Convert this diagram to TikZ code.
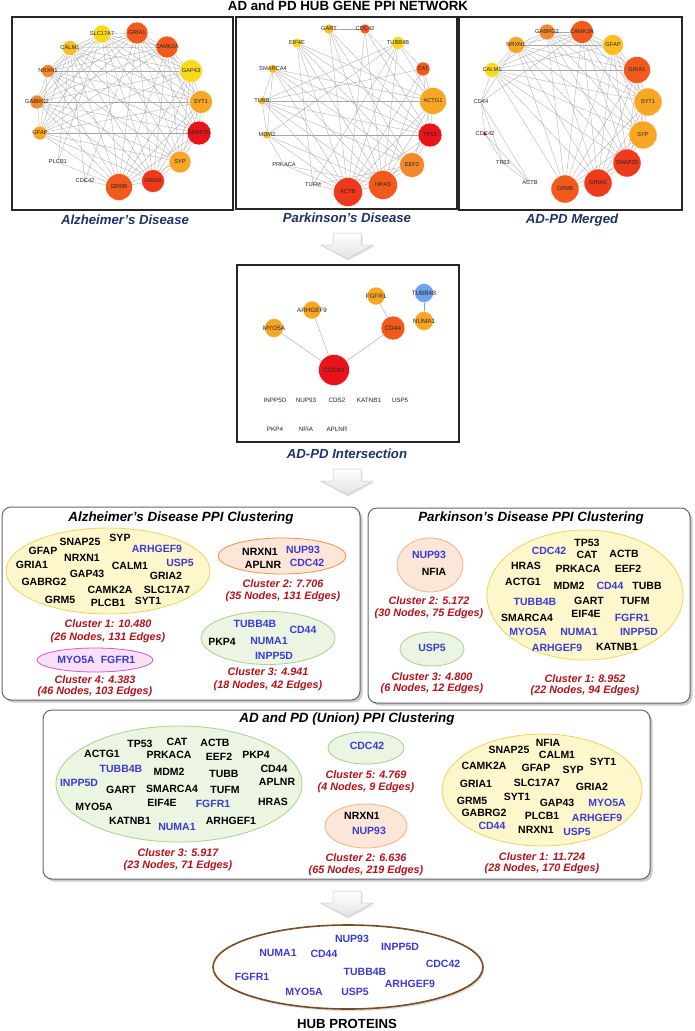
\documentclass[tikz,border=0pt]{standalone}
\usepackage{fontspec}
\setmainfont{Liberation Sans}
\usetikzlibrary{shapes.geometric,shadows}
\pgfdeclarelayer{bg}
\pgfsetlayers{bg,main}
\definecolor{cblue}{HTML}{3B3BD4}
\definecolor{cred}{HTML}{B5121B}
\definecolor{cnavy}{HTML}{1F3464}
\definecolor{nRed}{HTML}{E8141B}
\definecolor{nRedOr}{HTML}{EE3A1B}
\definecolor{nOrRed}{HTML}{F25A1D}
\definecolor{nOrange}{HTML}{F5882A}
\definecolor{nOrYel}{HTML}{F8A725}
\definecolor{nYelOr}{HTML}{F8BE22}
\definecolor{nYellow}{HTML}{F9D91C}
\definecolor{nBlue}{HTML}{6EA2F0}
\definecolor{yF}{HTML}{FFF7CC}
\definecolor{yD}{HTML}{EDD35C}
\definecolor{pF}{HTML}{FCE6D8}
\definecolor{pD}{HTML}{EE9050}
\definecolor{gF}{HTML}{EBF5E1}
\definecolor{gD}{HTML}{A9D18E}
\definecolor{mF}{HTML}{F9E0F7}
\definecolor{mD}{HTML}{D655D6}
\definecolor{hubD}{HTML}{7A4A20}
\definecolor{hubF}{HTML}{D9C6A4}
\definecolor{hubG}{HTML}{F1E8D8}
\pgfdeclareradialshading{hubshade}{\pgfpoint{0bp}{0bp}}{color(0bp)=(white); color(24bp)=(white); color(37bp)=(hubG); color(46bp)=(hubF); color(50bp)=(hubF)}
\newcommand\nnode[7][nl]{\node[nn,fill=#6,minimum size=#5] (#2) at (#3,#4) {};\node[#1] (#2l) at (#3,#4) {#7};}
\newcommand\barrowat[2]{\path[barrow] (#1-14,#2) -- (#1+14,#2) -- (#1+14,#2+12) -- (#1+26,#2+12) -- (#1,#2+26) -- (#1-26,#2+12) -- (#1-14,#2+12) -- cycle;}
\begin{document}
\begin{tikzpicture}[x=1pt,y=-1pt,
  nn/.style={circle,draw=white,line width=0.4pt,inner sep=0pt},
  nl/.style={font=\fontsize{5.7}{6}\selectfont,text=black!85,inner sep=0pt},
  il/.style={font=\fontsize{6.3}{7}\selectfont,text=black!85,inner sep=0pt},
  lnk/.style={draw=gray!70,line width=0.3pt},
  netbox/.style={draw=black!85,line width=1.1pt},
  plab/.style={font=\fontsize{13.2}{15}\selectfont\bfseries\itshape,text=cnavy,inner sep=0pt},
  wk/.style={font=\fontsize{10.5}{12}\selectfont\bfseries,inner sep=0pt},
  wb/.style={wk,text=cblue},
  st/.style={font=\fontsize{10.8}{12}\selectfont\bfseries\itshape,text=cred,inner sep=0pt},
  ctitle/.style={font=\fontsize{13.4}{15}\selectfont\bfseries\itshape,inner sep=0pt},
  cbox/.style={draw=black!60,line width=1pt,rounded corners=9pt,fill=white,drop shadow={shadow xshift=2.5pt,shadow yshift=-2.5pt,fill=black!40}},
  ell/.style={ellipse,line width=0.8pt,inner sep=0pt},
  barrow/.style={draw=gray!45,line width=0.5pt,top color=white,bottom color=gray!22,drop shadow={shadow xshift=1.5pt,shadow yshift=-1.5pt,fill=gray!40}}
]
\useasboundingbox (0,0) rectangle (694,1031);
\begin{pgfonlayer}{bg}
\fill[white] (0,0) rectangle (694,1031);
\end{pgfonlayer}

% ---------- title ----------
\node[font=\fontsize{13.3}{15}\selectfont\bfseries,inner sep=0pt] (title) at (348,6) {AD and PD HUB GENE PPI NETWORK};

% ---------- AD network ----------
\draw[netbox] (12,17) rectangle (233,210);
\nnode{a1}{102}{34}{18}{nYellow}{SLC17A7}
\nnode{a2}{137}{33}{22}{nOrRed}{GRIA1}
\nnode{a3}{167}{47}{22}{nOrRed}{CAMK2A}
\nnode{a4}{191}{71}{23}{nYellow}{GAP43}
\nnode{a5}{201}{102}{23}{nOrYel}{SYT1}
\nnode{a6}{199}{133}{24}{nRed}{SNAP25}
\nnode{a7}{180}{162}{22}{nOrYel}{SYP}
\nnode{a8}{153}{181}{23}{nRedOr}{GRIA2}
\nnode{a9}{119}{187}{27}{nOrRed}{GRM5}
\nnode{a10}{40}{133}{14}{nOrYel}{GFAP}
\nnode{a11}{37}{102}{14}{nOrange}{GABRG2}
\nnode{a12}{48}{71}{13}{nOrange}{NRXN1}
\nnode{a13}{70}{48}{15}{nYelOr}{CALM1}
\nnode{aP}{58}{162}{3}{nYellow}{PLCB1}
\nnode{aC}{85}{181}{3}{nRed}{CDC42}
\begin{pgfonlayer}{bg}
\foreach \i in {1,...,12}{
  \pgfmathtruncatemacro\s{\i+1}
  \foreach \j in {\s,...,13}{\draw[lnk] (a\i.center) -- (a\j.center);}
}
\foreach \u/\v in {aP/a13,aP/a1,aP/a9,aC/a13,aC/a9,aC/a2}
  \draw[lnk] (\u.center) -- (\v.center);
\end{pgfonlayer}
\node[plab] (labAD) at (125,220) {Alzheimer's Disease};

% ---------- PD network ----------
\draw[netbox] (236,17) rectangle (457,209);
\nnode{p1}{329}{29}{10}{nYelOr}{GART}
\nnode{p2}{365}{29}{10}{nOrRed}{CDC42}
\nnode{p3}{398}{43}{13}{nYellow}{TUBB4B}
\nnode{p4}{423}{69}{14}{nOrRed}{CAT}
\nnode{p5}{433}{101}{27}{nOrYel}{ACTG1}
\nnode{p6}{430}{135}{24}{nRed}{TP53}
\nnode{p7}{412}{165}{25}{nOrange}{EEF2}
\nnode{p8}{383}{185}{29}{nOrRed}{HRAS}
\nnode{p9}{348}{192}{29}{nRedOr}{ACTB}
\nnode{p10}{313}{185}{3}{nYellow}{TUFM}
\nnode{p11}{284}{165}{3}{nYellow}{PRKACA}
\nnode{p12}{267}{135}{8}{nYelOr}{MDM2}
\nnode{p13}{262}{101}{8}{nYelOr}{TUBB}
\nnode{p14}{273}{69}{9}{nYelOr}{SMARCA4}
\nnode{p15}{297}{43}{10}{nYellow}{EIF4E}
\begin{pgfonlayer}{bg}
\foreach \u/\v in {1/2,1/9,1/8,1/7,1/6,2/9,2/8,2/6,2/5,3/13,3/9,3/8,3/12,3/10,3/5,3/4,4/6,4/8,4/9,4/5,4/13,5/6,5/7,5/8,5/9,5/13,5/15,5/14,6/7,6/8,6/9,6/12,6/15,6/14,6/13,7/8,7/9,7/10,7/15,7/14,7/13,8/9,8/11,8/12,8/14,8/15,8/13,9/11,9/12,9/13,9/14,9/15,9/10,12/13,13/14,11/12,12/14,15/10}
  \draw[lnk] (p\u.center) -- (p\v.center);
\end{pgfonlayer}
\node[plab] (labPD) at (347,218) {Parkinson's Disease};

% ---------- Merged network ----------
\draw[netbox] (459,17) rectangle (682,210);
\nnode{m1}{547}{32}{16}{nOrange}{GABRG2}
\nnode{m2}{582}{32}{23}{nOrRed}{CAMK2A}
\nnode{m3}{613}{45}{21}{nYelOr}{GFAP}
\nnode{m4}{637}{70}{27}{nOrRed}{GRIA1}
\nnode{m5}{648}{102}{28}{nOrYel}{SYT1}
\nnode{m6}{643}{135}{28}{nOrYel}{SYP}
\nnode{m7}{627}{163}{28}{nRedOr}{SNAP25}
\nnode{m8}{598}{183}{28}{nRedOr}{GRIA2}
\nnode{m9}{565}{189}{28}{nOrRed}{GRM5}
\nnode{m10}{492}{70}{15}{nYellow}{CALM1}
\nnode{m11}{516}{45}{17}{nOrYel}{NRXN1}
\nnode{mA}{530}{183}{3}{nYellow}{ACTB}
\nnode{mT}{503}{163}{3}{nRed}{TP53}
\nnode{mC}{485}{134}{4}{nRed}{CDC42}
\nnode{mD}{481}{102}{3}{nOrange}{CD44}
\begin{pgfonlayer}{bg}
\foreach \i in {1,...,10}{
  \pgfmathtruncatemacro\s{\i+1}
  \foreach \j in {\s,...,11}{\draw[lnk] (m\i.center) -- (m\j.center);}
}
\foreach \u/\v in {mD/m2,mD/m11,mD/mC,mC/mT,mC/mA,mD/mA,mD/mT,mT/mA,mD/m10}
  \draw[lnk] (\u.center) -- (\v.center);
\end{pgfonlayer}
\node[plab] (labM) at (572,220) {AD-PD Merged};

% ---------- arrow 1 ----------
\barrowat{347}{233}

% ---------- Intersection ----------
\draw[netbox] (237,265) rectangle (459,442);
\nnode[il]{i1}{424}{293}{19}{nBlue}{TUBB4B}
\nnode[il]{i2}{424}{321}{19}{nOrYel}{NUMA1}
\nnode[il]{i3}{376}{296}{18}{nOrYel}{FGFR1}
\nnode[il]{i4}{393}{328}{24}{nOrRed}{CD44}
\nnode[il]{i5}{312}{310}{18}{nOrYel}{ARHGEF9}
\nnode[il]{i6}{274}{328}{19}{nOrYel}{MYO5A}
\nnode[il]{i7}{334}{370}{31}{nRed}{CDC42}
\nnode[il]{i8}{275}{400}{3}{nYellow}{INPP5D}
\nnode[il]{i9}{306}{400}{3}{nYellow}{NUP93}
\nnode[il]{i10}{337}{400}{3}{nYellow}{CDS2}
\nnode[il]{i11}{369}{400}{3}{nYellow}{KATNB1}
\nnode[il]{i12}{400}{400}{3}{nYellow}{USP5}
\nnode[il]{i13}{275}{429}{3}{nYellow}{PKP4}
\nnode[il]{i14}{306}{429}{3}{nYellow}{NFIA}
\nnode[il]{i15}{337}{429}{3}{nYellow}{APLNR}
\begin{pgfonlayer}{bg}
\foreach \u/\v in {i7/i6,i7/i5,i7/i4,i4/i3}
  \draw[draw=gray!60,line width=0.5pt] (\u.center) -- (\v.center);
\draw[draw=nBlue,line width=0.7pt] (i1.center) -- (i2.center);
\end{pgfonlayer}
\node[plab] (labI) at (347,454) {AD-PD Intersection};

% ---------- arrow 2 ----------
\barrowat{347}{469}

% ---------- AD clustering ----------
\path[cbox] (2,507) rectangle (360,700);
\node[ctitle] (adt) at (181,518) {Alzheimer's Disease PPI Clustering};
\node[ell,fill=yF,draw=yD,minimum width=204,minimum height=86] (ad1) at (108,571) {};
\foreach \t/\x/\y [count=\k] in {SNAP25/80/542,SYP/120/538,GFAP/43/551,NRXN1/82/558,GRIA1/32/565,CALM1/130/566,GAP43/87/574,GRIA2/166/576,GABRG2/44/582,CAMK2A/110/590,SLC17A7/167/590,GRM5/60/600,PLCB1/108/603,SYT1/148/601}
  \node[wk] (ad1k\k) at (\x,\y) {\t};
\foreach \t/\x/\y [count=\k] in {ARHGEF9/157/549,USP5/180/563}
  \node[wb] (ad1b\k) at (\x,\y) {\t};
\node[st] (ad1s) at (108,624) {Cluster 1: 10.480};
\node[st] (ad1n) at (108,638) {(26 Nodes, 131 Edges)};
\node[ell,fill=pF,draw=pD,minimum width=128,minimum height=36] (ad2) at (282,556) {};
\node[wk] (ad2k1) at (260,552) {NRXN1};
\node[wk] (ad2k2) at (263,565) {APLNR};
\node[wb] (ad2b1) at (303,550) {NUP93};
\node[wb] (ad2b2) at (307,563) {CDC42};
\node[st] (ad2s) at (283,584) {Cluster 2: 7.706};
\node[st] (ad2n) at (283,597) {(35 Nodes, 131 Edges)};
\node[ell,fill=gF,draw=gD,minimum width=134,minimum height=53] (ad3) at (268,638) {};
\node[wk] (ad3k1) at (222,642) {PKP4};
\foreach \t/\x/\y [count=\k] in {TUBB4B/255/624,CD44/303/630,NUMA1/269/641,INPP5D/274/656}
  \node[wb] (ad3b\k) at (\x,\y) {\t};
\node[st] (ad3s) at (268,672) {Cluster 3: 4.941};
\node[st] (ad3n) at (268,686) {(18 Nodes, 42 Edges)};
\node[ell,fill=mF,draw=mD,minimum width=116,minimum height=24] (ad4) at (95,660) {};
\node[wb] (ad4b1) at (76,660) {MYO5A};
\node[wb] (ad4b2) at (118,660) {FGFR1};
\node[st] (ad4s) at (95,680) {Cluster 4: 4.383};
\node[st] (ad4n) at (95,692) {(46 Nodes, 103 Edges)};

% ---------- PD clustering ----------
\path[cbox] (368,508) rectangle (690,703);
\node[ctitle] (pdt) at (531,518) {Parkinson's Disease PPI Clustering};
\node[ell,fill=pF,draw=pD!70,minimum width=66,minimum height=54] (pd2) at (430,565) {};
\node[wb] (pd2b1) at (429,555) {NUP93};
\node[wk] (pd2k1) at (434,572) {NFIA};
\node[st] (pd2s) at (429,601) {Cluster 2: 5.172};
\node[st] (pd2n) at (429,614) {(30 Nodes, 75 Edges)};
\node[ell,fill=gF,draw=gD,minimum width=64,minimum height=34] (pd3) at (432,649) {};
\node[wb] (pd3b1) at (432,648) {USP5};
\node[st] (pd3s) at (432,677) {Cluster 3: 4.800};
\node[st] (pd3n) at (432,689) {(6 Nodes, 12 Edges)};
\node[ell,fill=yF,draw=yD,minimum width=196,minimum height=130] (pd1) at (585,595) {};
\foreach \t/\x/\y [count=\k] in {TP53/587/543,CAT/587/555,ACTB/624/554,HRAS/526/566,PRKACA/578/569,EEF2/628/569,ACTG1/523/582,MDM2/569/586,TUBB/647/586,GART/589/601,TUFM/635/601,SMARCA4/527/618,EIF4E/586/614,KATNB1/617/647}
  \node[wk] (pd1k\k) at (\x,\y) {\t};
\foreach \t/\x/\y [count=\k] in {CDC42/549/551,CD44/610/586,TUBB4B/535/602,FGFR1/632/618,MYO5A/528/632,NUMA1/579/632,INPP5D/639/632,ARHGEF9/557/648}
  \node[wb] (pd1b\k) at (\x,\y) {\t};
\node[st] (pd1s) at (585,679) {Cluster 1: 8.952};
\node[st] (pd1n) at (585,691) {(22 Nodes, 94 Edges)};

% ---------- Union clustering ----------
\path[cbox] (43,710) rectangle (650,879);
\node[ctitle] (unt) at (347,719) {AD and PD (Union) PPI Clustering};
\node[ell,fill=gF,draw=gD,minimum width=246,minimum height=116] (un3) at (179,784) {};
\foreach \t/\x/\y [count=\k] in {TP53/140/744,CAT/177/742,ACTB/215/743,ACTG1/102/754,PRKACA/169/755,EEF2/219/757,PKP4/256/755,MDM2/169/772,TUBB/224/774,CD44/274/769,GART/121/790,SMARCA4/172/789,TUFM/225/790,APLNR/277/782,MYO5A/94/807,EIF4E/162/803,HRAS/273/802,KATNB1/130/821,ARHGEF1/231/821}
  \node[wk] (un3k\k) at (\x,\y) {\t};
\foreach \t/\x/\y [count=\k] in {TUBB4B/121/769,INPP5D/79/783,FGFR1/213/804,NUMA1/177/827}
  \node[wb] (un3b\k) at (\x,\y) {\t};
\node[st] (un3s) at (178,853) {Cluster 3: 5.917};
\node[st] (un3n) at (178,866) {(23 Nodes, 71 Edges)};
\node[ell,fill=gF,draw=gD,minimum width=76,minimum height=32] (un5) at (366,748) {};
\node[wb] (un5b1) at (367,746) {CDC42};
\node[st] (un5s) at (366,775) {Cluster 5: 4.769};
\node[st] (un5n) at (366,788) {(4 Nodes, 9 Edges)};
\node[ell,fill=pF,draw=pD!70,minimum width=82,minimum height=44] (un2) at (366,826) {};
\node[wk] (un2k1) at (362,816) {NRXN1};
\node[wb] (un2b1) at (369,831) {NUP93};
\node[st] (un2s) at (366,858) {Cluster 2: 6.636};
\node[st] (un2n) at (366,871) {(65 Nodes, 219 Edges)};
\node[ell,fill=yF,draw=yD,minimum width=200,minimum height=112] (un1) at (542,790) {};
\foreach \t/\x/\y [count=\k] in {NFIA/548/743,SNAP25/509/750,CALM1/557/755,SYT1/603/762,CAMK2A/484/766,GFAP/536/768,SYP/573/770,GRIA1/476/784,SLC17A7/537/783,GRIA2/592/787,GRM5/472/801,SYT1/517/797,GAP43/557/803,GABRG2/484/813,PLCB1/542/816,NRXN1/536/830}
  \node[wk] (un1k\k) at (\x,\y) {\t};
\foreach \t/\x/\y [count=\k] in {MYO5A/607/803,ARHGEF9/597/818,CD44/492/826,USP5/577/832}
  \node[wb] (un1b\k) at (\x,\y) {\t};
\node[st] (un1s) at (542,857) {Cluster 1: 11.724};
\node[st] (un1n) at (542,869) {(28 Nodes, 170 Edges)};

% ---------- arrow 3 ----------
\barrowat{347}{891}

% ---------- Hub proteins ----------
\node[ell,minimum width=270,minimum height=84,draw=hubD,line width=1.6pt,shading=hubshade,drop shadow={shadow xshift=1.5pt,shadow yshift=-2pt,fill=gray!50}] (hub) at (348,967) {};
\foreach \t/\x/\y [count=\k] in {NUP93/352/939,INPP5D/400/947,NUMA1/278/953,CD44/324/954,CDC42/443/964,FGFR1/252/977,TUBB4B/365/972,ARHGEF9/410/984,MYO5A/304/992,USP5/355/992}
  \node[wb] (hubw\k) at (\x,\y) {\t};
\node[font=\fontsize{13.2}{15}\selectfont\bfseries,inner sep=0pt] (hubt) at (347,1024) {HUB PROTEINS};
\end{tikzpicture}
\end{document}
